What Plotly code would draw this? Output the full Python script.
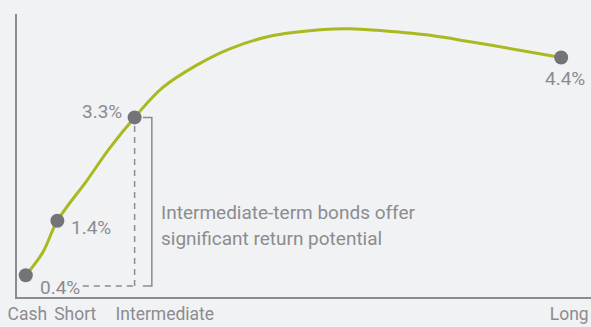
import plotly.graph_objects as go

# ---- data ----
categories = ["Cash", "Short", "Intermediate", "Long"]
maturity = [0.5, 2.3, 6.7, 31.0]          # position along the maturity axis
yields = [0.4, 1.4, 3.3, 4.4]             # labelled yields (%)

curve_x = [0.5, 1.47, 2.3, 3.98, 5.29, 6.7, 8.31, 10.24, 12.12, 14.4,
           17.26, 18.97, 20.85, 23.70, 25.64, 26.95, 31.0]
curve_y = [0.4, 0.82, 1.4, 2.14, 2.74, 3.3, 3.85, 4.26, 4.56, 4.79,
           4.91, 4.93, 4.89, 4.80, 4.70, 4.63, 4.4]

note_lines = ["Intermediate-term bonds offer", "significant return potential"]

# ---- style ----
BG = "#f1f2f4"
GREEN = "#a9b91f"
DOT = "#737477"
GREY = "#8b8c8f"
FONT = "Roboto"

fig = go.Figure()
fig.add_trace(go.Scatter(x=curve_x, y=curve_y, mode="lines",
                         line=dict(color=GREEN, width=3, shape="spline", smoothing=1.0),
                         hoverinfo="skip", showlegend=False))
fig.add_trace(go.Scatter(x=maturity, y=yields, mode="markers",
                         marker=dict(color=DOT, size=14),
                         showlegend=False))

# value labels (offsets in pixels)
label_pos = [
    dict(xanchor="left", xshift=12, yshift=-12),
    dict(xanchor="left", xshift=12, yshift=-7),
    dict(xanchor="right", xshift=-11, yshift=6),
    dict(xanchor="right", xshift=26, yshift=-21),
]
for mx, v, p in zip(maturity, yields, label_pos):
    fig.add_annotation(x=mx, y=v, text=f"{v:.1f}%", showarrow=False,
                       font=dict(family=FONT, size=19, color=GREY),
                       xanchor=p["xanchor"], yanchor="middle",
                       xshift=p["xshift"], yshift=p["yshift"])

# dashed guide from 0.4% label to intermediate point
base_y = 0.2
ix, iy = maturity[2], yields[2]
fig.add_shape(type="line", x0=3.75, x1=ix, y0=base_y, y1=base_y,
              line=dict(color=GREY, width=1.5, dash="6px,5px"))
fig.add_shape(type="line", x0=ix, x1=ix, y0=base_y, y1=iy - 0.1,
              line=dict(color=GREY, width=1.5, dash="6px,5px"))
# bracket
bx = ix + 0.98
fig.add_shape(type="path",
              path=f"M {ix+0.47},{iy} L {bx},{iy} L {bx},{base_y} L {ix+0.47},{base_y}",
              line=dict(color=GREY, width=1.5))
for i, line in enumerate(note_lines):
    fig.add_annotation(x=bx, y=1.56, text=line, showarrow=False, align="left",
                       xanchor="left", yanchor="middle", xshift=7, yshift=-26 * i,
                       font=dict(family=FONT, size=19, color=GREY))

tick_pos = [0.59, 3.32, 8.42, 31.46]
fig.update_layout(
    width=591, height=327,
    margin=dict(l=17, r=0, t=14, b=30),
    paper_bgcolor=BG, plot_bgcolor=BG,
    xaxis=dict(range=[0, 32.7], showgrid=False, zeroline=False,
               showline=True, linecolor=GREY, linewidth=1.5,
               tickmode="array", tickvals=tick_pos, ticktext=categories,
               ticks="", tickfont=dict(family=FONT, size=17.5, color=GREY)),
    yaxis=dict(range=[0, 5.2], showgrid=False, zeroline=False,
               showline=True, linecolor=GREY, linewidth=1.5,
               showticklabels=False, ticks=""),
)
fig.write_html("out.html")
